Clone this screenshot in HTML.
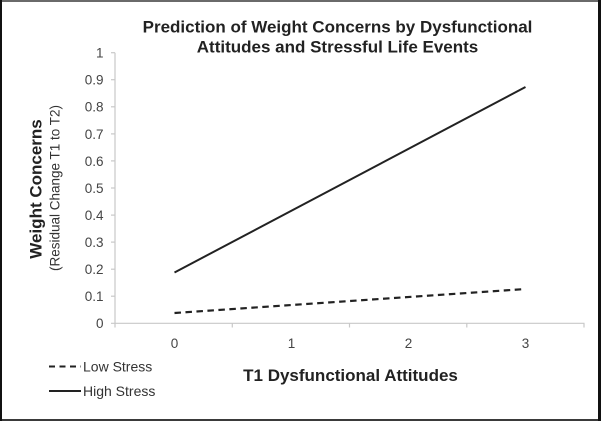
<!DOCTYPE html>
<html>
<head>
<meta charset="utf-8">
<style>
  html, body { margin: 0; padding: 0; background: #fff; }
  body { width: 601px; height: 421px; overflow: hidden; }
  svg { display: block; }
  text { font-family: "Liberation Sans", Arial, sans-serif; }
</style>
</head>
<body>
<svg width="601" height="421" viewBox="0 0 601 421" xmlns="http://www.w3.org/2000/svg">
  <rect x="0" y="0" width="601" height="421" fill="#ffffff"/>
  <!-- frame -->
  <rect x="0" y="0" width="601" height="2" fill="#6a6a6a"/>
  <rect x="0" y="419" width="601" height="2" fill="#3a3a3a"/>
  <rect x="0" y="0" width="2" height="421" fill="#111"/>
  <rect x="598" y="0" width="3" height="421" fill="#111"/>

  <!-- title -->
  <text x="337.5" y="32.5" text-anchor="middle" font-size="17" font-weight="bold" fill="#222">Prediction of Weight Concerns by Dysfunctional</text>
  <text x="337.5" y="52.5" text-anchor="middle" font-size="17" font-weight="bold" fill="#222">Attitudes and Stressful Life Events</text>

  <!-- axes -->
  <g stroke="#c8c8c8" stroke-width="1.2" fill="none">
    <line x1="115" y1="52.7" x2="115" y2="323.3"/>
    <line x1="111" y1="323.3" x2="584.5" y2="323.3"/>
    <!-- y ticks -->
    <line x1="111" y1="296.2" x2="115" y2="296.2"/>
    <line x1="111" y1="269.2" x2="115" y2="269.2"/>
    <line x1="111" y1="242.1" x2="115" y2="242.1"/>
    <line x1="111" y1="215.1" x2="115" y2="215.1"/>
    <line x1="111" y1="188.0" x2="115" y2="188.0"/>
    <line x1="111" y1="160.9" x2="115" y2="160.9"/>
    <line x1="111" y1="133.9" x2="115" y2="133.9"/>
    <line x1="111" y1="106.8" x2="115" y2="106.8"/>
    <line x1="111" y1="79.7" x2="115" y2="79.7"/>
    <line x1="111" y1="52.7" x2="115" y2="52.7"/>
    <!-- x ticks -->
    <line x1="115" y1="323.3" x2="115" y2="327.5"/>
    <line x1="232.3" y1="323.3" x2="232.3" y2="327.5"/>
    <line x1="349.5" y1="323.3" x2="349.5" y2="327.5"/>
    <line x1="466.8" y1="323.3" x2="466.8" y2="327.5"/>
    <line x1="584" y1="323.3" x2="584" y2="327.5"/>
  </g>

  <!-- y tick labels -->
  <g font-size="13.5" fill="#444" text-anchor="end">
    <text x="103.5" y="328">0</text>
    <text x="103.5" y="301">0.1</text>
    <text x="103.5" y="274">0.2</text>
    <text x="103.5" y="247">0.3</text>
    <text x="103.5" y="220">0.4</text>
    <text x="103.5" y="193">0.5</text>
    <text x="103.5" y="166">0.6</text>
    <text x="103.5" y="139">0.7</text>
    <text x="103.5" y="111.5">0.8</text>
    <text x="103.5" y="84.5">0.9</text>
    <text x="103.5" y="57.5">1</text>
  </g>

  <!-- x tick labels -->
  <g font-size="13.5" fill="#444" text-anchor="middle">
    <text x="174.5" y="348">0</text>
    <text x="291.5" y="348">1</text>
    <text x="408.5" y="348">2</text>
    <text x="525.5" y="348">3</text>
  </g>

  <!-- y axis titles -->
  <text transform="translate(41.5,189) rotate(-90)" text-anchor="middle" font-size="17" font-weight="bold" fill="#222">Weight Concerns</text>
  <text transform="translate(59.5,188) rotate(-90)" text-anchor="middle" font-size="13.5" fill="#333">(Residual Change T1 to T2)</text>

  <!-- x axis title -->
  <text x="350.5" y="381" text-anchor="middle" font-size="17" font-weight="bold" fill="#222">T1 Dysfunctional Attitudes</text>

  <!-- series -->
  <line x1="174.5" y1="272.5" x2="525.5" y2="87" stroke="#222" stroke-width="2"/>
  <line x1="174.5" y1="313" x2="525.5" y2="289" stroke="#222" stroke-width="2.2" stroke-dasharray="6.5 4.5"/>

  <!-- legend -->
  <line x1="49" y1="366.5" x2="81" y2="366.5" stroke="#222" stroke-width="2" stroke-dasharray="6 4.5"/>
  <text x="83" y="371.5" font-size="14" fill="#333">Low Stress</text>
  <line x1="49" y1="391" x2="81" y2="391" stroke="#222" stroke-width="2"/>
  <text x="83" y="396" font-size="14" fill="#333">High Stress</text>
</svg>
</body>
</html>
